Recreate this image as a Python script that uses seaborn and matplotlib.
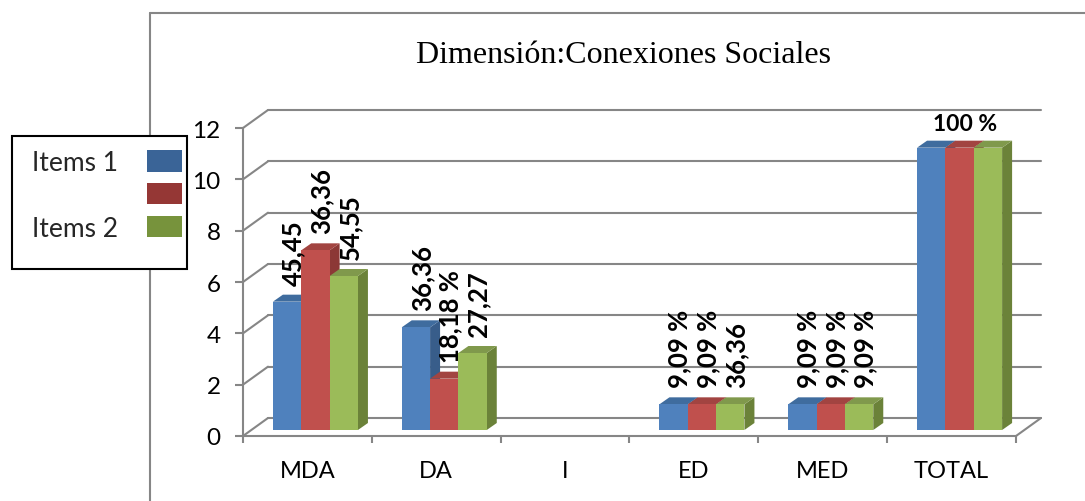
import seaborn as sns
import matplotlib.pyplot as plt
import pandas as pd
from matplotlib.patches import Patch, Polygon, Rectangle
from matplotlib.lines import Line2D
from matplotlib.transforms import offset_copy

# datos del grafico
categorias = ["MDA", "DA", "I", "ED", "MED", "TOTAL"]
serie_1 = [5, 4, 0, 1, 1, 11]
serie_2 = [7, 2, 0, 1, 1, 11]
serie_3 = [6, 3, 0, 1, 1, 11]
etiquetas_1 = ["45,45", "36,36", "", "9,09 %", "9,09 %", ""]
etiquetas_2 = ["36,36", "18,18 %", "", "9,09 %", "9,09 %", "100 %"]
etiquetas_3 = ["54,55", "27,27", "", "36,36", "9,09 %", ""]
leyenda = ["Items 1", " ", "Items 2"]
titulo = "Dimensión:Conexiones Sociales"
yticks = [0, 2, 4, 6, 8, 10, 12]

frente = ["#4F81BD", "#C0504D", "#9BBB59"]
arriba = ["#3F6C9E", "#A24441", "#80994C"]
lado = ["#385D8A", "#8C3836", "#6B8239"]
claves = ["#3A6497", "#953735", "#77933C"]
gris = "#868686"

sns.set_theme(style="white")
plt.rcParams["font.family"] = ["Lato", "DejaVu Sans"]

df = pd.DataFrame({
    "categoria": categorias * 3,
    "valor": serie_1 + serie_2 + serie_3,
    "serie": ["s1"] * 6 + ["s2"] * 6 + ["s3"] * 6,
})

W, H = 1085, 502
fig = plt.figure(figsize=(W / 100, H / 100), dpi=100)
ax = fig.add_axes([243 / W, (H - 437) / H, 773 / W, 308 / H])

sns.barplot(data=df, x="categoria", y="valor", hue="serie", order=categorias,
            palette=frente, width=0.66, saturation=1, legend=False, ax=ax,
            linewidth=0)
ax.set_xlim(-0.5, len(categorias) - 0.5)
ax.set_ylim(0, 12)
ax.set_xlabel("")
ax.set_ylabel("")
ax.grid(False)

# pixeles por unidad
ppx = 773 / len(categorias)
ppy = 308 / 12

# pared del fondo (3D)
bdx, bdy = 25 / ppx, 18 / ppy
x0, x1 = -0.5, len(categorias) - 0.5
for yv in yticks:
    ax.plot([x0 + bdx, x1 + bdx], [yv + bdy, yv + bdy], color=gris, lw=1.5,
            clip_on=False, zorder=0.5)
    ax.plot([x0, x0 + bdx], [yv, yv + bdy], color=gris, lw=1.5,
            clip_on=False, zorder=0.5)
ax.plot([x1, x1 + bdx], [0, bdy], color=gris, lw=1.5, clip_on=False, zorder=0.5)

# barras con profundidad
trans_barra = offset_copy(ax.transData, fig=fig, x=8, y=6, units="dots")
ddx, ddy = 10 / ppx, 7 / ppy
etiquetas = [etiquetas_1, etiquetas_2, etiquetas_3]
for i, cont in enumerate(ax.containers):
    for j, bar in enumerate(cont.patches):
        bar.set_transform(trans_barra)
        bar.set_zorder(3)
        h = bar.get_height()
        if h <= 0:
            continue
        bx, bw = bar.get_x(), bar.get_width()
        ax.add_patch(Polygon([(bx, h), (bx + bw, h), (bx + bw + ddx, h + ddy), (bx + ddx, h + ddy)],
                             closed=True, facecolor=arriba[i], edgecolor="none",
                             transform=trans_barra, zorder=2, clip_on=False))
        ax.add_patch(Polygon([(bx + bw, 0), (bx + bw + ddx, ddy), (bx + bw + ddx, h + ddy), (bx + bw, h)],
                             closed=True, facecolor=lado[i], edgecolor="none",
                             transform=trans_barra, zorder=1.5, clip_on=False))
        txt = etiquetas[i][j]
        if not txt:
            continue
        if categorias[j] == "TOTAL":
            ax.annotate(txt, (bx + bw / 2 + ddx / 2, h), xycoords=trans_barra,
                        xytext=(0, 24), textcoords="offset pixels", ha="center",
                        va="center", fontsize=16.5, fontweight="bold", color="black",
                        annotation_clip=False)
        else:
            ax.annotate(txt, (bx + bw / 2 + ddx / 2, h), xycoords=trans_barra,
                        xytext=(1, 17), textcoords="offset pixels", ha="center",
                        va="bottom", rotation=90, fontsize=18.5, fontweight="bold",
                        color="black", annotation_clip=False)

# ejes
for s in ["top", "right"]:
    ax.spines[s].set_visible(False)
for s in ["left", "bottom"]:
    ax.spines[s].set_color(gris)
    ax.spines[s].set_linewidth(1.5)
ax.set_yticks(yticks)
ax.set_xticks(range(len(categorias)))
ax.set_xticklabels(categorias)
ax.set_xticks([k - 0.5 for k in range(len(categorias) + 1)], minor=True)
ax.tick_params(axis="y", length=6, width=1.5, color=gris, labelsize=17.5, pad=10,
               labelcolor="black", left=True)
ax.tick_params(axis="x", which="major", length=0, labelsize=17, pad=17,
               labelcolor="black")
ax.tick_params(axis="x", which="minor", length=5, width=1.5, color=gris, bottom=True)

# borde del area del grafico
fig.add_artist(Line2D([150 / W, 150 / W], [0, 1 - 14 / H], color=gris, lw=1.5, zorder=1))
fig.add_artist(Line2D([150 / W, 1], [1 - 14 / H, 1 - 14 / H], color=gris, lw=1.5, zorder=1))

fig.text(623 / W, 1 - 63 / H, titulo, ha="center", va="baseline", fontsize=23,
         family=["Liberation Serif", "DejaVu Serif"], color="black")

# leyenda
fig.add_artist(Rectangle((12 / W, 1 - 270 / H), 175 / W, 133 / H, facecolor="white",
                         edgecolor="black", lw=1.5, zorder=3))
handles = [Patch(facecolor=c, edgecolor="none") for c in claves]
fig.legend(handles, leyenda, loc="upper right", bbox_to_anchor=(182 / W, 1 - 151 / H),
           frameon=False, markerfirst=False, fontsize=19, handlelength=1.33,
           handleheight=0.87, labelspacing=0.3, handletextpad=1.1, borderpad=0,
           borderaxespad=0).set_zorder(5)

fig.savefig("out.png", dpi=100)
